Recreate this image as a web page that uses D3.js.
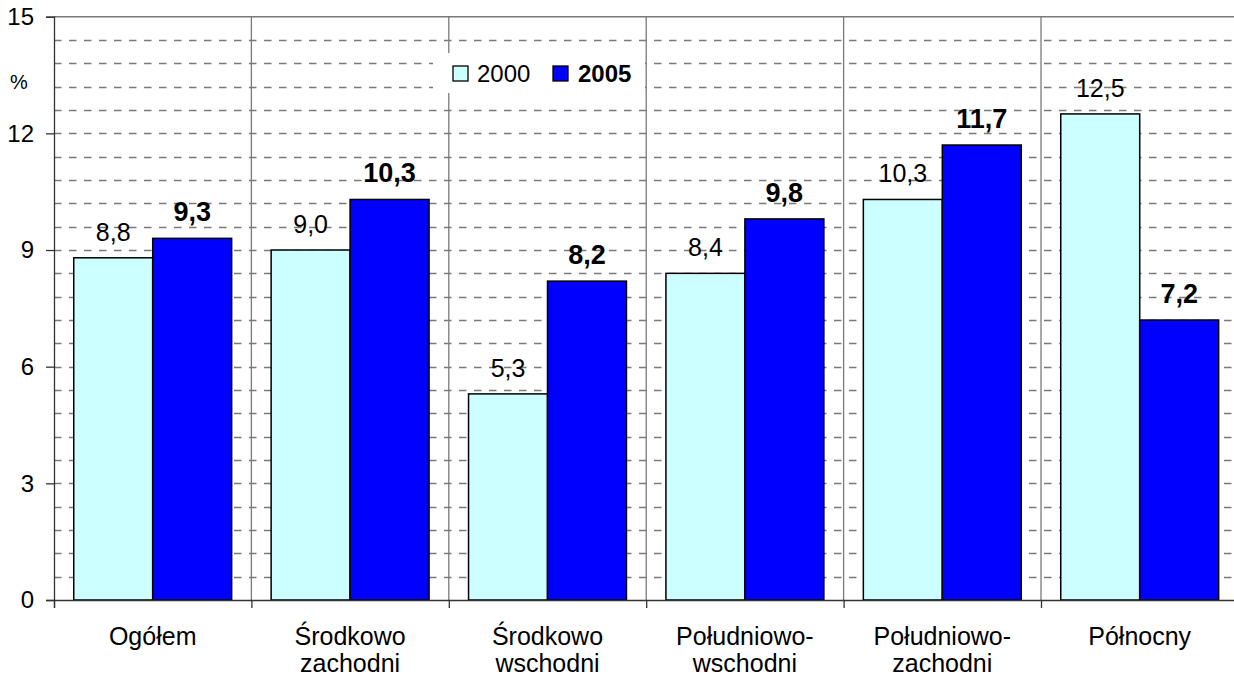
<!DOCTYPE html>
<html>
<head>
<meta charset="utf-8">
<script src="https://cdn.jsdelivr.net/npm/d3@7"></script>
<style>
  html, body { margin: 0; padding: 0; background: #fff; }
  svg { display: block; font-family: "Liberation Sans", Arial, sans-serif; }
</style>
</head>
<body>
<svg id="chart" width="1234" height="680"></svg>
<script>
// ---- data ----
const categories = ["Ogółem", "Środkowo\nzachodni", "Środkowo\nwschodni", "Południowo-\nwschodni", "Południowo-\nzachodni", "Północny"];
const seriesNames = ["2000", "2005"];
const values2000 = [8.8, 9.0, 5.3, 8.4, 10.3, 12.5];
const values2005 = [9.3, 10.3, 8.2, 9.8, 11.7, 7.2];
const yTicks = [0, 3, 6, 9, 12, 15];
const yUnit = "%";

(function () {
// ---- layout ----
const svg = d3.select("#chart");
const plotLeft = 54, catW = 197.4, plotTop = 16.7, plotBottom = 600;
const plotRight = plotLeft + catW * categories.length;
const colors = { "2000": "#CCFFFF", "2005": "#0000FF" };
const gridColor = "#7a7a7a";
const axisColor = "#333333";

const x0 = d3.scaleBand().domain(d3.range(categories.length)).range([plotLeft, plotRight]).padding(0);
const x1 = d3.scaleBand().domain(seriesNames).range([0, x0.bandwidth()]).paddingInner(0).paddingOuter(0.25);
const y = d3.scaleLinear().domain([0, 15]).range([plotBottom, plotTop]);

const locale = d3.formatLocale({ decimal: ",", thousands: " ", grouping: [3], currency: ["", ""] });
const fmt = locale.format(".1f");

// minor dashed gridlines every 0.6
const minorVals = d3.range(1, 25).map(i => +(i * 0.6).toFixed(1));
svg.append("g").selectAll("line").data(minorVals).join("line")
  .attr("x1", plotLeft).attr("x2", plotRight)
  .attr("y1", d => Math.round(y(d)) + 0.5).attr("y2", d => Math.round(y(d)) + 0.5)
  .attr("stroke", gridColor).attr("stroke-width", 1.3)
  .attr("stroke-dasharray", "7.5,7.5");

// top border
svg.append("line").attr("x1", plotLeft).attr("x2", plotRight)
  .attr("y1", y(15)).attr("y2", y(15))
  .attr("stroke", gridColor).attr("stroke-width", 1.5);

// vertical category separators
svg.append("g").selectAll("line").data(d3.range(1, categories.length)).join("line")
  .attr("x1", d => x0(d)).attr("x2", d => x0(d))
  .attr("y1", y(15)).attr("y2", plotBottom)
  .attr("stroke", gridColor).attr("stroke-width", 1.3);

// legend background (white, hides grid)
const legend = svg.append("g");
legend.append("rect").attr("x", 433).attr("y", 53).attr("width", 212).attr("height", 40).attr("fill", "#fff");

// bars
const data = categories.map((c, i) => ({ i, vals: [{ s: "2000", v: values2000[i] }, { s: "2005", v: values2005[i] }] }));
const groups = svg.append("g").selectAll("g").data(data).join("g")
  .attr("transform", d => `translate(${x0(d.i)},0)`);
groups.selectAll("rect").data(d => d.vals).join("rect")
  .attr("x", d => x1(d.s)).attr("width", x1.bandwidth())
  .attr("y", d => y(d.v)).attr("height", d => y(0) - y(d.v))
  .attr("fill", d => colors[d.s]).attr("stroke", "#000").attr("stroke-width", 1.5);

// data labels
groups.selectAll("text").data(d => d.vals).join("text")
  .attr("x", d => x1(d.s) + x1.bandwidth() / 2)
  .attr("y", d => y(d.v) - 17)
  .attr("text-anchor", "middle")
  .attr("font-size", d => d.s === "2005" ? 27 : 25)
  .attr("font-weight", d => d.s === "2005" ? "bold" : "normal")
  .attr("fill", "#000")
  .text(d => fmt(d.v));

// y axis
const yAxis = d3.axisLeft(y).tickValues(yTicks).tickSize(8).tickPadding(12).tickFormat(d3.format("d"));
const gy = svg.append("g").attr("transform", `translate(${plotLeft},0)`).call(yAxis);
gy.select(".domain").attr("stroke", axisColor).attr("stroke-width", 1.3);
gy.selectAll(".tick line").attr("stroke", axisColor).attr("stroke-width", 1.3);
gy.selectAll(".tick text").attr("font-size", 24).attr("font-family", "Liberation Sans, Arial, sans-serif").attr("fill", "#000");

// x axis baseline + ticks at category boundaries
const xb = d3.scaleLinear().domain([0, categories.length]).range([plotLeft, plotRight]);
const xAxis = d3.axisBottom(xb).tickValues(d3.range(0, categories.length + 1)).tickSize(8).tickFormat("");
const gx = svg.append("g").attr("transform", `translate(0,${plotBottom})`).call(xAxis);
gx.select(".domain").attr("stroke", axisColor).attr("stroke-width", 1.3);
gx.selectAll(".tick line").attr("stroke", axisColor).attr("stroke-width", 1.3);

// category labels
const catText = svg.append("g").selectAll("text").data(categories).join("text")
  .attr("x", (d, i) => x0(i) + x0.bandwidth() / 2)
  .attr("y", 645)
  .attr("text-anchor", "middle")
  .attr("font-size", 25)
  .attr("fill", "#000");
catText.each(function(d) {
  const lines = d.split("\n");
  const t = d3.select(this);
  lines.forEach((l, k) => {
    t.append("tspan").attr("x", t.attr("x")).attr("dy", k === 0 ? 0 : 27).text(l);
  });
});

// unit label
svg.append("text").attr("x", 10).attr("y", 89).attr("font-size", 20).attr("fill", "#000").text(yUnit);

// legend items
const legendX = [453, 553];
const legendTextX = [477, 578];
seriesNames.forEach((s, k) => {
  legend.append("rect").attr("x", legendX[k]).attr("y", 66).attr("width", 15).attr("height", 15)
    .attr("fill", colors[s]).attr("stroke", "#000").attr("stroke-width", 1.3);
  legend.append("text").attr("x", legendTextX[k]).attr("y", 82)
    .attr("font-size", 24).attr("font-weight", k === 1 ? "bold" : "normal")
    .attr("fill", "#000").text(s);
});
})();
</script>
</body>
</html>
